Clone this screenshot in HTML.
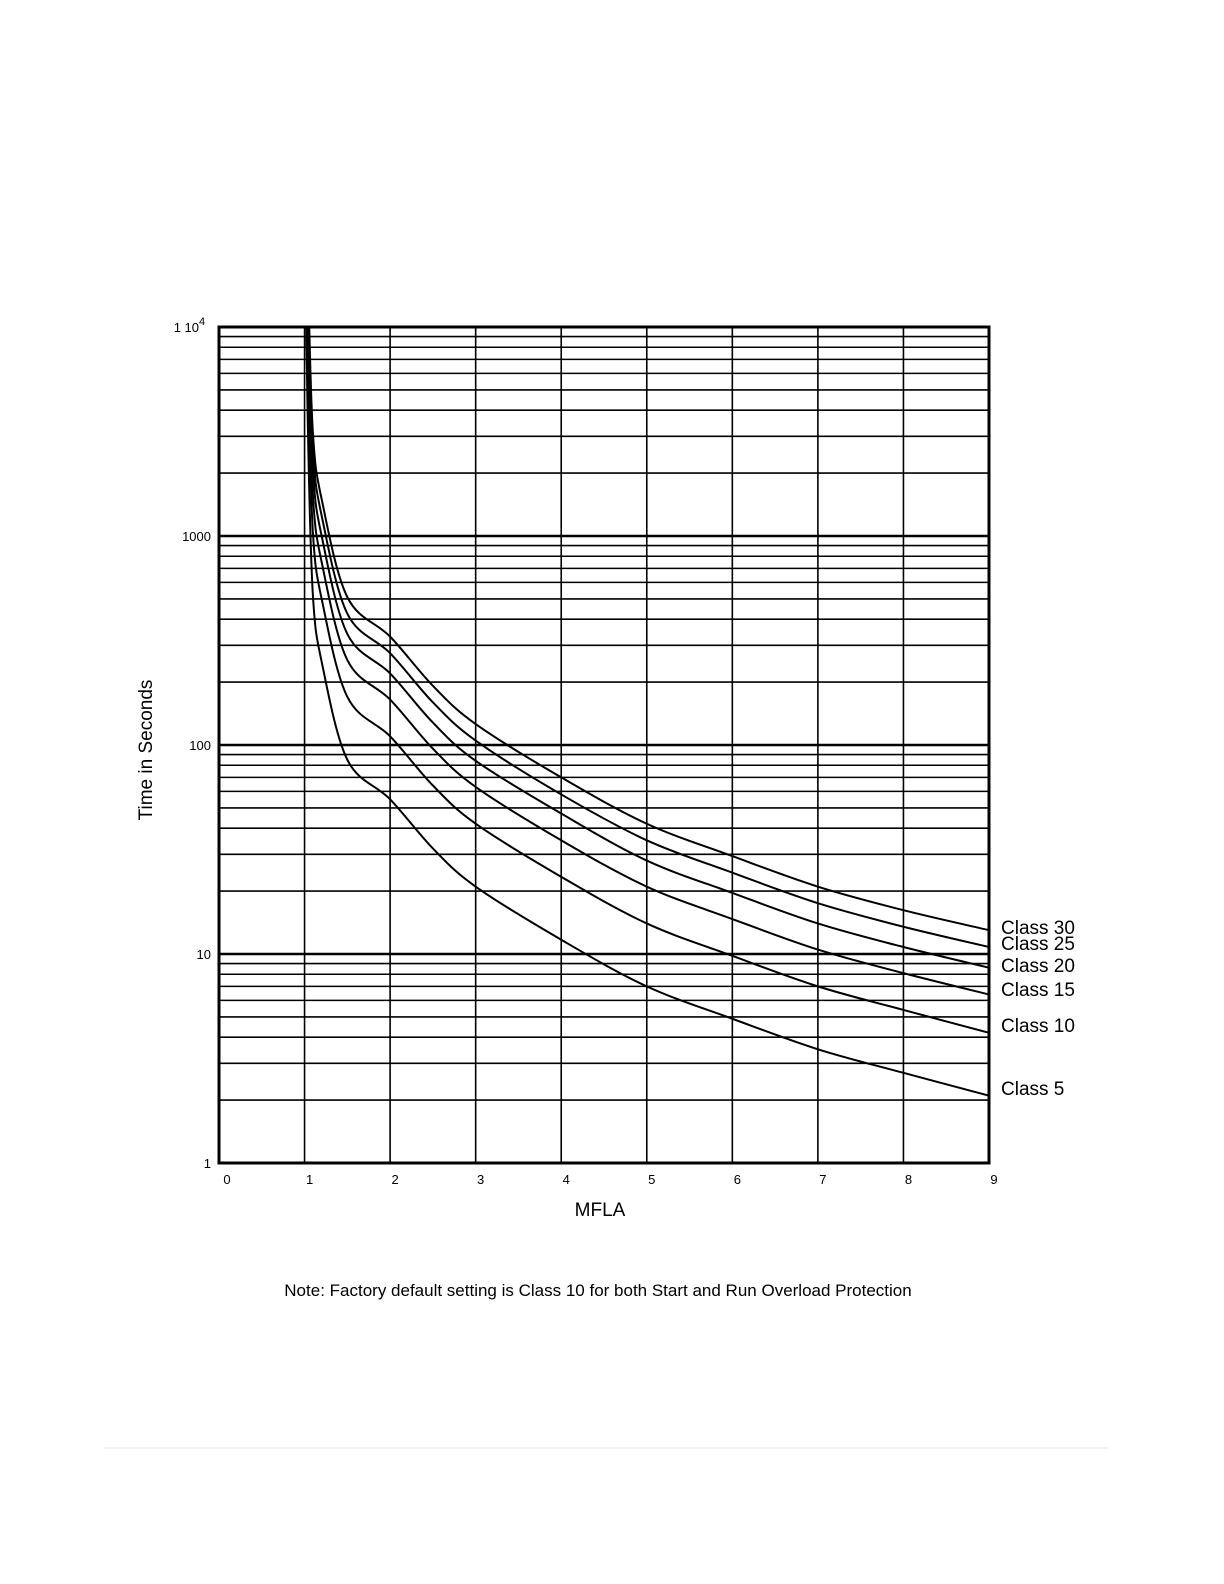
<!DOCTYPE html>
<html><head><meta charset="utf-8"><style>
body{margin:0;background:#fff;width:1224px;height:1584px;overflow:hidden}
svg{position:absolute;left:0;top:0}
text{font-family:"Liberation Sans",Arial,sans-serif;fill:#000}
</style></head><body>
<svg id="chart" width="1224" height="1584" viewBox="0 0 1224 1584">
<defs><clipPath id="plotclip"><rect x="219" y="327" width="770" height="836"/></clipPath></defs>
<g id="grid"></g>
<g id="curves" clip-path="url(#plotclip)"></g>
<g id="labels"></g>
<text x="600" y="1216" font-size="19" text-anchor="middle">MFLA</text>
<text x="0" y="0" font-size="19" text-anchor="middle" transform="translate(152,750) rotate(-90)">Time in Seconds</text>
<text x="598" y="1296" font-size="17" text-anchor="middle">Note: Factory default setting is Class 10 for both Start and Run Overload Protection</text>
<line x1="104" y1="1448" x2="1108" y2="1448" stroke="#e4e4e4" stroke-width="1"/>
</svg>
<script>
const xTicks=[0,1,2,3,4,5,6,7,8,9];
const yTickValues=[1,10,100,1000,10000];
const yTickLabels=["1","10","100","1000","1 10"];
const seriesNames=["Class 5","Class 10","Class 15","Class 20","Class 25","Class 30"];
const xs=[1.005,1.01,1.02,1.05,1.1,1.2,1.5,2,2.5,3,4,5,6,7,8,9];
const class5=[80000,20000,10000,2000,500,250,85,55,32,21,11.7,7,4.9,3.5,2.7,2.1];
const class10=[160000,40000,20000,4000,1000,500,170,110,64,42,23.4,14,9.8,7,5.4,4.2];
const class15=[240000,60000,30000,6000,1500,750,255,165,96,63,35,21,14.7,10.5,8.1,6.4];
const class20=[320000,80000,40000,8000,2000,1000,340,220,128,84,47,28,19.6,14,10.8,8.6];
const class25=[400000,100000,50000,10000,2500,1250,425,275,160,105,58,35,24.5,17.5,13.5,10.8];
const class30=[480000,120000,60000,12000,3000,1500,510,330,192,126,70,42,29.4,21,16.2,13];
const labelY=[1088,1025,989,965,943,927];

const X0=219,X1=989,Y1=327,Y0=1163;
const sx=v=>X0+(v/9)*(X1-X0);
const sy=v=>Y0-(Math.log10(v)/4)*(Y0-Y1);
const NS="http://www.w3.org/2000/svg";
function mk(tag,attrs,parent){const e=document.createElementNS(NS,tag);for(const k in attrs)e.setAttribute(k,attrs[k]);parent.appendChild(e);return e;}
const grid=document.getElementById('grid');
for(let d=0;d<4;d++){for(let m=1;m<=9;m++){const v=m*Math.pow(10,d);const y=sy(v);
 const l=mk('line',{x1:X0,x2:X1,y1:y,y2:y,stroke:'#000','stroke-width':m===1?2.5:1.6},grid);
 
 }}
xTicks.forEach(t=>{const x=sx(t);
 const l=mk('line',{x1:x,x2:x,y1:Y1,y2:Y0,stroke:'#000','stroke-width':1.6},grid);
 
 
 const tx=mk('text',{x:x+(t===0?8:5),y:1184,'font-size':13,'text-anchor':'middle'},grid);tx.textContent=t;
 
 });
const frame=mk('rect',{x:X0,y:Y1,width:X1-X0,height:Y0-Y1,fill:'none',stroke:'#000','stroke-width':3},grid);


yTickValues.forEach((v,i)=>{const t=mk('text',{x:211,y:sy(v)+5,'font-size':13,'text-anchor':'end'},grid);
 t.textContent=yTickLabels[i];
 
 
 if(v===10000){t.setAttribute('x',199);const s=mk('text',{x:199,y:sy(v)-2,'font-size':11},grid);s.textContent='4';
 
 }});
const series=[class5,class10,class15,class20,class25,class30];
const curves=document.getElementById('curves'),labels=document.getElementById('labels');
series.forEach((vals,si)=>{
 const p=xs.map((x,i)=>[sx(x),sy(vals[i])]);
 let d='M'+p[0][0]+','+p[0][1];
 for(let i=0;i<p.length-1;i++){const a=p[i-1]||p[i],b=p[i],c=p[i+1],e=p[i+2]||c;
  d+=` C${b[0]+(c[0]-a[0])/6},${b[1]+(c[1]-a[1])/6} ${c[0]-(e[0]-b[0])/6},${c[1]-(e[1]-b[1])/6} ${c[0]},${c[1]}`;}
 const path=mk('path',{d:d,fill:'none',stroke:'#000','stroke-width':2},curves);
 
 
 const t=mk('text',{x:1001,y:labelY[si]+7,'font-size':19},labels);t.textContent=seriesNames[si];
 
 
});
</script>
</body></html>
